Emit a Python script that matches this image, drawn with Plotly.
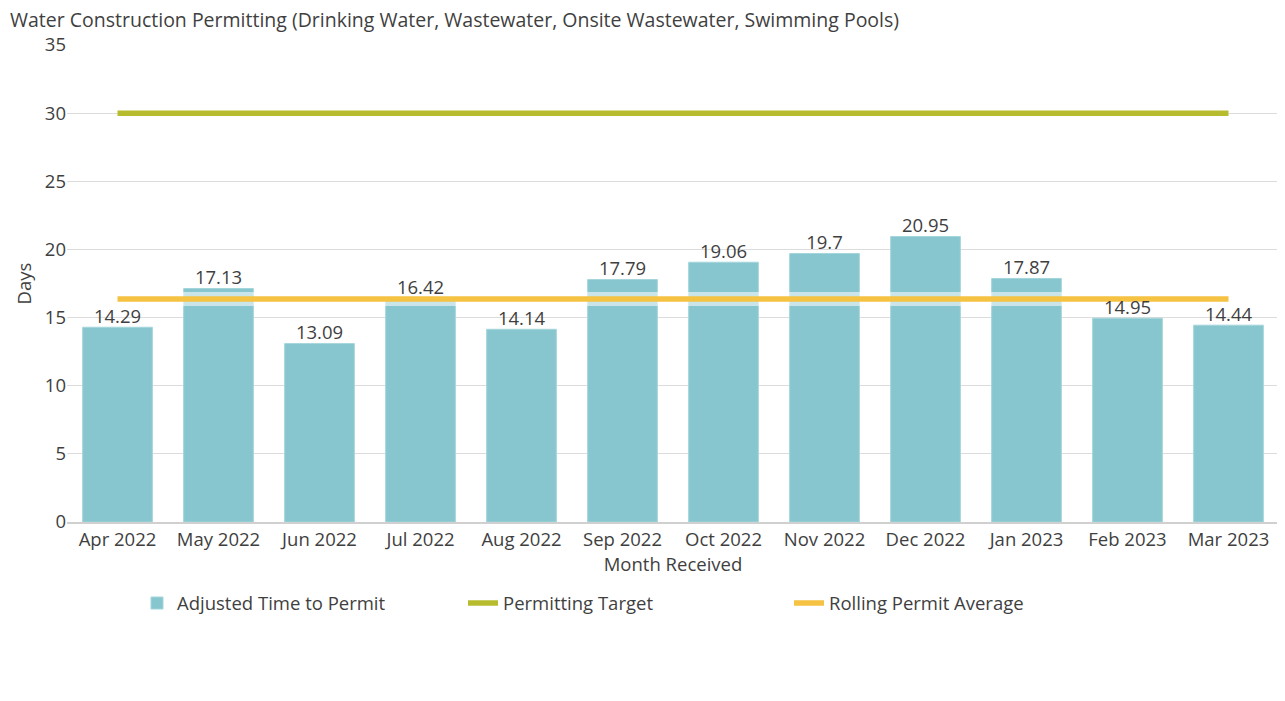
import plotly.graph_objects as go

months = ["Apr 2022", "May 2022", "Jun 2022", "Jul 2022", "Aug 2022", "Sep 2022",
          "Oct 2022", "Nov 2022", "Dec 2022", "Jan 2023", "Feb 2023", "Mar 2023"]
adjusted_days = [14.29, 17.13, 13.09, 16.42, 14.14, 17.79, 19.06, 19.7, 20.95, 17.87, 14.95, 14.44]
target_days = [30] * 12
rolling_avg = [16.36] * 12

font_family = "Open Sans"
text_color = "#3f3f3f"

fig = go.Figure()

fig.add_trace(go.Bar(
    x=months,
    y=adjusted_days,
    name="Adjusted Time to Permit",
    marker=dict(color="#87C6CE", line=dict(color="#A3D5DB", width=1)),
))

# white halo around the target line
fig.add_trace(go.Scatter(
    x=months, y=target_days, mode="lines",
    line=dict(color="rgba(255,255,255,0.5)", width=14),
    showlegend=False, hoverinfo="skip",
))
fig.add_trace(go.Scatter(
    x=months, y=target_days, mode="lines",
    name="Permitting Target",
    line=dict(color="#B7BC2F", width=5.5),
))

# white halo around the rolling average line
fig.add_trace(go.Scatter(
    x=months, y=rolling_avg, mode="lines",
    line=dict(color="rgba(255,255,255,0.55)", width=14),
    showlegend=False, hoverinfo="skip",
))
fig.add_trace(go.Scatter(
    x=months, y=rolling_avg, mode="lines",
    name="Rolling Permit Average",
    line=dict(color="#F5C242", width=5.5),
))

# bar value labels on top of everything
fig.add_trace(go.Scatter(
    x=months, y=adjusted_days, mode="text",
    text=[f"{v:g}" for v in adjusted_days],
    textposition="top center",
    textfont=dict(size=18.5, color=text_color),
    showlegend=False, hoverinfo="skip", cliponaxis=False,
))

# page body adds an 8px margin, so margins are shifted to compensate
fig.update_layout(
    width=1285, height=701,
    paper_bgcolor="white", plot_bgcolor="white",
    font=dict(family=font_family, color=text_color, size=18.5),
    title=dict(
        text="Water Construction Permitting (Drinking Water, Wastewater, Onsite Wastewater, Swimming Pools)",
        x=0, xanchor="left", xref="container",
        y=1 - 12 / 701, yanchor="middle", yref="container",
        pad=dict(l=2),
        font=dict(size=19.5, color=text_color),
    ),
    margin=dict(l=59, r=14, t=37, b=187),
    bargap=0.31,
    xaxis=dict(
        title=dict(text="Month Received", font=dict(size=18.5), standoff=4),
        tickfont=dict(size=18.5),
        range=[-0.5, len(months) - 0.5],
        showgrid=False,
        showline=True, linecolor="#d0d0d0", linewidth=2,
        ticks="",
    ),
    yaxis=dict(
        title=dict(text="Days", font=dict(size=18.5), standoff=8),
        range=[0, 35], dtick=5,
        tickfont=dict(size=18.5),
        gridcolor="#dcdcdc", gridwidth=1,
        zeroline=False,
        ticks="",
    ),
    legend=dict(
        orientation="h",
        x=(137 - 67) / 1212, xanchor="left",
        y=-0.131, yanchor="top",
        entrywidth=281,
        font=dict(size=18.5),
        itemwidth=30,
    ),
    showlegend=True,
)

fig.write_html("out.html")
